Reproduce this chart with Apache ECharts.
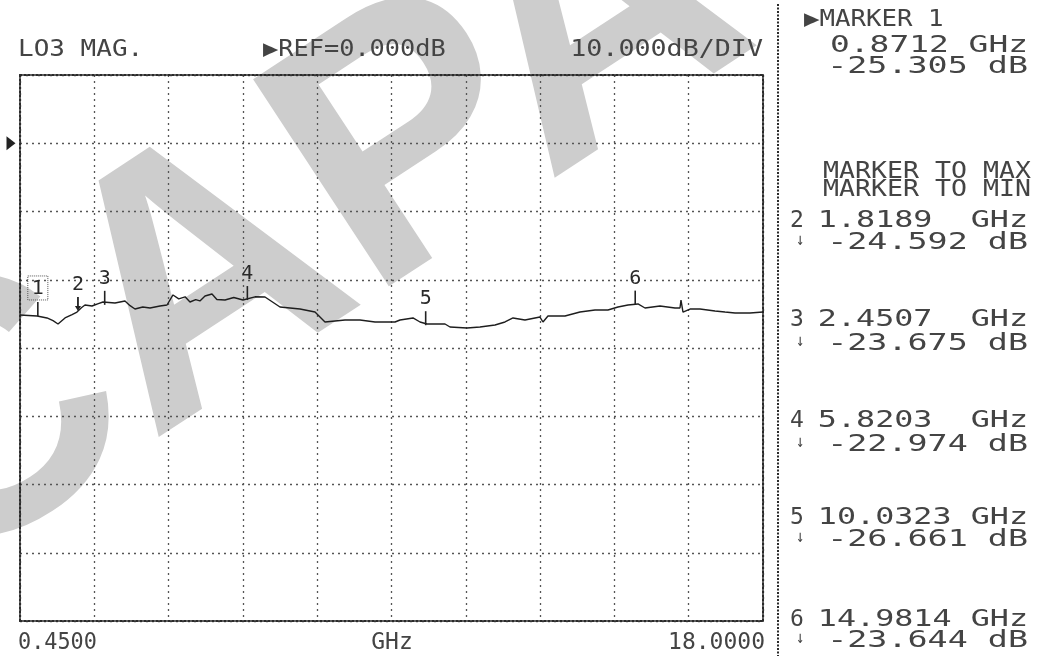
<!DOCTYPE html>
<html>
<head>
<meta charset="utf-8">
<script src="https://cdn.jsdelivr.net/npm/echarts@6/dist/echarts.min.js"></script>
<style>html,body{margin:0;padding:0;background:#fff}#c{width:1037px;height:660px}</style>
</head>
<body>
<div id="c"></div>
<script>
// ---- data ----
const freqGHz = [0.450,0.852,1.088,1.230,1.348,1.513,1.680,1.796,1.900,1.985,2.151,2.300,2.410,2.694,2.930,3.050,3.166,3.350,3.521,3.757,3.922,4.064,4.200,4.350,4.465,4.600,4.700,4.820,4.985,5.100,5.292,5.500,5.717,6.000,6.237,6.591,7.064,7.418,7.654,8.127,8.481,8.835,9.308,9.426,9.733,9.898,10.063,10.489,10.607,11.008,11.315,11.670,11.906,12.095,12.378,12.732,12.803,12.921,13.323,13.677,14.031,14.338,14.575,14.811,15.047,15.213,15.567,15.921,16.039,16.063,16.110,16.276,16.512,16.866,17.102,17.339,17.693,18.000];
const levelDb = [-25.16,-25.31,-25.60,-26.00,-26.48,-25.60,-25.10,-24.73,-24.10,-23.70,-23.85,-23.50,-23.26,-23.41,-23.11,-23.80,-24.29,-24.00,-24.14,-23.85,-23.70,-22.23,-22.80,-22.50,-23.26,-22.90,-23.10,-22.38,-22.09,-22.90,-22.97,-22.60,-22.97,-22.50,-22.53,-23.99,-24.29,-24.73,-26.19,-25.90,-25.90,-26.19,-26.19,-25.90,-25.60,-26.19,-26.48,-26.48,-26.92,-27.07,-26.92,-26.63,-26.19,-25.60,-25.90,-25.46,-26.19,-25.31,-25.31,-24.73,-24.43,-24.43,-23.99,-23.70,-23.55,-24.14,-23.85,-24.14,-24.14,-22.97,-24.73,-24.29,-24.29,-24.58,-24.73,-24.87,-24.87,-24.73];
const markerNums = ['1','2','3','4','5','6'];
const markerFreqs = [0.8712,1.8189,2.4507,5.8203,10.0323,14.9814];
const markerDb = [-25.305,-24.592,-23.675,-22.974,-26.661,-23.644];
const startGHz = 0.45, stopGHz = 18.0;
const refDb = 0, dbPerDiv = 10, topDb = 10, bottomDb = -70;
const xDivisions = 10;
const headerLeft = 'LO3 MAG.', headerMid = '\u25B6REF=0.000dB', headerRight = '10.000dB/DIV';
const startLabel = '0.4500', stopLabel = '18.0000', unitLabel = 'GHz';
const panelTitle = '\u25B6MARKER 1';
const panelLines = ['MARKER TO MAX','MARKER TO MIN'];

// ---- chart ----
const chart = echarts.init(document.getElementById('c'));
const FONT = 'DejaVu Sans Mono';
const INK = '#444444';
const border = {show:true, onZero:false, lineStyle:{color:'#2a2a2a', width:2, type:[2,2]}};
const gridLine = {show:true, lineStyle:{color:'#555', width:1.3, type:[2,4]}};

function txt(x, y, s, size, align, sx, extra) {
  return Object.assign({
    type:'text', x:x, y:y, scaleX:sx||1, z:10,
    style:{text:s, x:0, y:0, fontFamily:FONT, fontSize:size, fill:INK, align:align||'left', verticalAlign:'middle'}
  }, extra||{});
}
function padNum(s, n) { while (s.length < n) s += ' '; return s; }

const graphics = [
  {type:'text', x:-22, y:652, rotation:0.58, z:-10, silent:true,
   style:{text:'CAPAC', fontFamily:'Liberation Sans', fontWeight:'bold', fontSize:360, fill:'#cdcdcd', align:'left', verticalAlign:'bottom'}},
  txt(18, 50, headerLeft, 23, 'left', 1.13),
  txt(263, 50, headerMid, 23, 'left', 1.1),
  txt(763, 50, headerRight, 23, 'right', 1.16),
  txt(18, 643, startLabel, 23, 'left', 0.95),
  txt(392, 643, unitLabel, 23, 'center', 1.0),
  txt(765, 643, stopLabel, 23, 'right', 1.0),
  {type:'line', shape:{x1:778, y1:4, x2:778, y2:656}, style:{stroke:'#2a2a2a', lineWidth:2, lineDash:[2,1.5]}},
  txt(804, 20, panelTitle, 23, 'left', 1.12),
  txt(1028, 46, markerFreqs[0].toFixed(4)+' GHz', 23, 'right', 1.43),
  txt(1028, 67, markerDb[0].toFixed(3)+' dB', 23, 'right', 1.45),
  txt(1031, 172, panelLines[0], 23, 'right', 1.155),
  txt(1031, 190, panelLines[1], 23, 'right', 1.155)
];
const rowFreqY = [221, 320, 421, 518, 620];
const rowDbY = [243, 344, 445, 540, 641];
for (let i = 1; i < markerNums.length; i++) {
  const k = i - 1;
  graphics.push(txt(790, rowFreqY[k], markerNums[i], 23, 'left', 1.0));
  graphics.push(txt(1028, rowFreqY[k], padNum(markerFreqs[i].toFixed(4), 7)+' GHz', 23, 'right', 1.38));
  graphics.push(txt(796, rowDbY[k]-2, '\u2193', 17, 'left', 0.8));
  graphics.push(txt(1028, rowDbY[k], markerDb[i].toFixed(3)+' dB', 23, 'right', 1.45));
}

const markData = markerNums.map((n, i) => {
  const item = {name:n, coord:[markerFreqs[i], markerDb[i]], symbol:'rect', symbolSize:[1.6, 14], symbolOffset:[0,-7],
    itemStyle:{color:'#222'},
    label:{show:true, position:'top', distance:2, formatter:n, fontFamily:FONT, fontSize:20, color:'#2a2a2a'}};
  if (i === 0) {
    item.label.borderColor = '#555'; item.label.borderWidth = 1; item.label.borderType = 'dotted';
    item.label.padding = [3,4,1,4];
  }
  if (i === 1) {
    item.symbol = 'path://M1.4,0L2.6,0L2.6,9L4,9L2,14L0,9L1.4,9Z';
    item.symbolSize = [6, 14];
  }
  return item;
});
markData.push({name:'ref', coord:[startGHz, refDb], symbol:'triangle', symbolRotate:-90, symbolSize:[14,9], symbolOffset:[-9,0],
  itemStyle:{color:'#222'}, label:{show:false}});

chart.setOption({
  animation:false,
  backgroundColor:'#ffffff',
  grid:{left:20, top:75, width:743, height:546, containLabel:false},
  xAxis:[
    {type:'value', min:startGHz, max:stopGHz, position:'bottom', axisLine:border, axisTick:{show:false}, axisLabel:{show:false}, splitLine:{show:false}},
    {type:'value', min:0, max:xDivisions, interval:1, position:'top', axisLine:border, axisTick:{show:false}, axisLabel:{show:false}, splitLine:gridLine}
  ],
  yAxis:[
    {type:'value', min:bottomDb, max:topDb, interval:dbPerDiv, position:'left', axisLine:border, axisTick:{show:false}, axisLabel:{show:false}, splitLine:gridLine},
    {type:'value', min:bottomDb, max:topDb, interval:dbPerDiv, position:'right', axisLine:border, axisTick:{show:false}, axisLabel:{show:false}, splitLine:{show:false}}
  ],
  graphic:graphics,
  series:[{
    type:'line', xAxisIndex:0, yAxisIndex:0, symbol:'none', z:5,
    data:freqGHz.map((f, i) => [f, levelDb[i]]),
    lineStyle:{color:'#1e1e1e', width:1.4},
    markPoint:{data:markData, z:6}
  }]
});
</script>
</body>
</html>
